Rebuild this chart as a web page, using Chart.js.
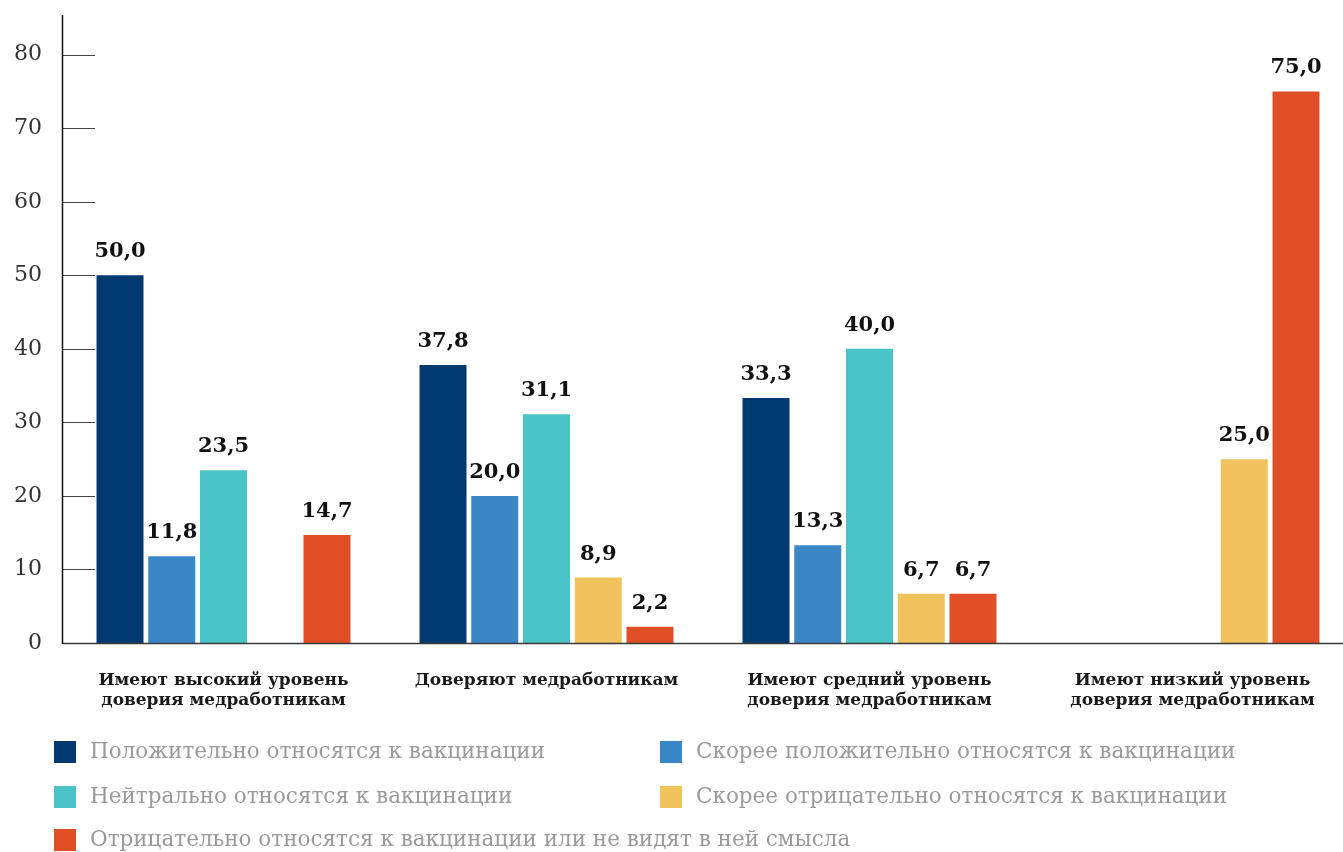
<!DOCTYPE html>
<html><head><meta charset="utf-8">
<script src="https://cdn.jsdelivr.net/npm/chart.js@4"></script>
<style>
html,body{margin:0;padding:0;background:#fff;overflow:hidden;width:1343px;height:852px;}
#wrap{position:absolute;left:0;top:0;width:1354px;height:720px;}
#legend{position:absolute;left:0;top:0;width:1343px;height:852px;pointer-events:none;}
.li{position:absolute;font-family:"DejaVu Serif",serif;font-size:21.5px;color:#9a9a9a;white-space:nowrap;line-height:22px;}
.li span.m{position:absolute;left:0;top:0;width:22px;height:22px;}
.li span.t{position:absolute;left:36px;top:-1px;}
</style></head>
<body>
<div id="wrap"><canvas id="c" width="1354" height="720"></canvas></div>
<div id="legend"></div>
<script>
const categories = [
  ["Имеют высокий уровень","доверия медработникам"],
  ["Доверяют медработникам"],
  ["Имеют средний уровень","доверия медработникам"],
  ["Имеют низкий уровень","доверия медработникам"]
];
const seriesNames = [
  "Положительно относятся к вакцинации",
  "Скорее положительно относятся к вакцинации",
  "Нейтрально относятся к вакцинации",
  "Скорее отрицательно относятся к вакцинации",
  "Отрицательно относятся к вакцинации или не видят в ней смысла"
];
const positive       = [50.0, 37.8, 33.3, null];
const ratherPositive = [11.8, 20.0, 13.3, null];
const neutral        = [23.5, 31.1, 40.0, null];
const ratherNegative = [null, 8.9, 6.7, 25.0];
const negative       = [14.7, 2.2, 6.7, 75.0];
const yTicks = [0,10,20,30,40,50,60,70,80];
const colors = ["#003a70","#3a87c8","#4ac3c6","#f0c35c","#e04e26"];
const seriesValues = [positive, ratherPositive, neutral, ratherNegative, negative];

const fmt = v => v.toFixed(1).replace('.', ',');

const decor = {
  id:'decor',
  afterDatasetsDraw(chart){
    const ctx = chart.ctx, ca = chart.chartArea, ys = chart.scales.y;
    ctx.save();
    ctx.strokeStyle = '#444'; ctx.lineWidth = 1;
    yTicks.forEach(t => {
      if (t === 0) return;
      const y = Math.round(ys.getPixelForValue(t)) + 0.5;
      ctx.beginPath(); ctx.moveTo(ca.left, y); ctx.lineTo(ca.left + 33, y); ctx.stroke();
    });
    const yb = ys.getPixelForValue(0);
    ctx.strokeStyle = '#3a3a3a'; ctx.lineWidth = 1.5;
    ctx.beginPath(); ctx.moveTo(ca.left, yb + 0.5); ctx.lineTo(chart.width, yb + 0.5); ctx.stroke();
    ctx.strokeStyle = '#111'; ctx.lineWidth = 1.5;
    ctx.beginPath(); ctx.moveTo(ca.left + 0.5, ca.top); ctx.lineTo(ca.left + 0.5, yb + 1); ctx.stroke();
    ctx.fillStyle = '#111';
    ctx.font = 'bold 21px "DejaVu Serif", serif';
    ctx.textAlign = 'center'; ctx.textBaseline = 'alphabetic';
    chart.data.datasets.forEach((ds, di) => {
      const meta = chart.getDatasetMeta(di);
      meta.data.forEach((bar, i) => {
        const v = ds.data[i];
        if (v === null || v === undefined) return;
        ctx.fillText(fmt(v), bar.x, bar.y - 18);
      });
    });
    ctx.restore();
  }
};

new Chart(document.getElementById('c'), {
  type:'bar',
  data:{
    labels: categories,
    datasets: seriesValues.map((d, i) => ({
      label: seriesNames[i], data: d, backgroundColor: colors[i],
      categoryPercentage: 0.801, barPercentage: 0.908
    }))
  },
  options:{
    responsive:false, animation:false,
    layout:{padding:{top:15,right:0,left:0,bottom:0}},
    plugins:{legend:{display:false}, tooltip:{enabled:false}},
    scales:{
      x:{
        grid:{display:false, drawTicks:false}, border:{display:false},
        ticks:{padding:27, color:'#1a1a1a', font:{family:'"DejaVu Serif", serif', weight:'bold', size:17, lineHeight:1.2}, maxRotation:0, autoSkip:false},
        afterFit(s){ s.height = 77; s.paddingLeft = 0; s.paddingRight = 0; }
      },
      y:{
        min:0, max:85.4,
        grid:{display:false, drawTicks:false}, border:{display:false},
        ticks:{padding:20, color:'#333', font:{family:'"DejaVu Serif", serif', size:22}},
        afterBuildTicks(s){ s.ticks = yTicks.map(v => ({value:v})); },
        afterFit(s){ s.width = 62; s.paddingTop = 0; s.paddingBottom = 0; }
      }
    }
  },
  plugins:[decor]
});

const legendPos = [[54,741],[660,741],[54,786],[660,786],[54,829]];
const lg = document.getElementById('legend');
seriesNames.forEach((name, si) => {
  const d = document.createElement('div');
  d.className = 'li';
  d.style.left = legendPos[si][0] + 'px';
  d.style.top = legendPos[si][1] + 'px';
  const m = document.createElement('span'); m.className = 'm'; m.style.background = colors[si];
  const t = document.createElement('span'); t.className = 't'; t.textContent = name;
  d.appendChild(m); d.appendChild(t); lg.appendChild(d);
});
</script>
</body></html>
